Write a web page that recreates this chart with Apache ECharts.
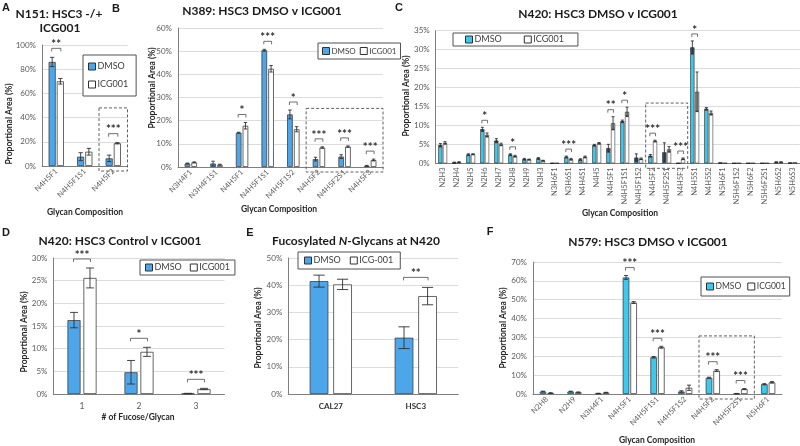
<!DOCTYPE html>
<html><head><meta charset="utf-8">
<script src="https://cdn.jsdelivr.net/npm/echarts@6/dist/echarts.min.js"></script>
<style>html,body{margin:0;padding:0;background:#fff}#c{width:800px;height:446px}</style>
</head><body><div id="c"></div>
<script>
// ---------- DATA ----------
var catA = ['N4H5F1','N4H5F1S1','N4H5F2'];
var dmsoA = [86, 7.7, 6.3];
var dmsoErrA = [3.8, 3.3, 2.7];
var icgA = [70, 11.8, 18.8];
var icgErrA = [2.3, 2.8, 0.5];
var sigA = ['**','','***'];
var boxA = [2, 2, 48];
var ticksA = [0, 100, 20];

var catB = ['N3H4F1','N3H4F1S1','N4H5F1','N4H5F1S1','N4H5F1S2','N4H5F2','N4H5F2S1','N4H5F3'];
var dmsoB = [1.5, 1.5, 14.8, 50.4, 22.7, 3.4, 4.5, 0.5];
var dmsoErrB = [0.2, 1.0, 0.2, 0.4, 1.9, 0.8, 0.8, 0.2];
var icgB = [2.0, 1.0, 17.8, 42.4, 16.3, 8.4, 8.8, 3.0];
var icgErrB = [0.2, 0.2, 1.4, 1.4, 1.1, 0.3, 0.3, 0.4];
var sigB = ['','','*','***','*','***','***','***'];
var boxB = [5, 7, 25.3];
var ticksB = [0, 60, 10];

var catC = ['N2H3','N2H4','N2H5','N2H6','N2H7','N2H8','N2H9','N3H3','N3H6F1','N3H6S1','N4H4S1','N4H5','N4H5F1','N4H5F1S1','N4H5F1S2','N4H5F2','N4H5F2S1','N4H5F3','N4H5S1','N4H5S2','N5H6F1','N5H6F1S2','N5H6F2','N5H6F2S1','N5H6S2','N5H6S3'];
var dmsoC = [4.8, 0.2, 2.3, 9.0, 6.0, 2.3, 1.1, 1.3, 0, 1.7, 1.0, 4.8, 4.0, 11.1, 1.5, 2.0, 2.9, 0, 30.6, 14.4, 0.1, 0, 0, 0, 0.3, 0.1];
var dmsoErrC = [0.4, 0.1, 0.2, 0.5, 0.5, 0.2, 0.2, 0.2, 0, 0.2, 0.2, 0.2, 1.0, 0.3, 1.0, 0.3, 2.5, 0, 1.7, 0.3, 0, 0, 0, 0, 0.1, 0];
var icgC = [5.4, 0.3, 2.4, 7.5, 5.0, 1.9, 1.0, 0.7, 0, 1.1, 1.7, 5.3, 10.6, 13.6, 1.2, 5.9, 3.7, 1.2, 18.9, 13.3, 0, 0, 0, 0, 0.3, 0.1];
var icgErrC = [0.3, 0.1, 0.1, 0.5, 0.3, 0.2, 0.1, 0.1, 0, 0.2, 0.2, 0.2, 1.7, 1.2, 0.2, 0.2, 0.7, 0.2, 5.2, 0.5, 0, 0, 0, 0, 0.1, 0];
var sigC = ['','','','*','','*','','','','***','','','**','*','','***','','***','*','','','','','','',''];
var boxC = [15, 17, 15.9];
var ticksC = [0, 35, 5];

var catD = ['1','2','3'];
var dmsoD = [16.3, 4.8, 0.1];
var dmsoErrD = [1.7, 2.6, 0.05];
var icgD = [25.6, 9.3, 1.1];
var icgErrD = [2.2, 1.0, 0.15];
var sigD = ['***','*','***'];
var ticksD = [0, 30, 5];

var catE = ['CAL27','HSC3'];
var dmsoE = [41.5, 20.7];
var dmsoErrE = [2.2, 4.0];
var icgE = [40.3, 36.0];
var icgErrE = [1.9, 3.2];
var sigE = ['','**'];
var ticksE = [0, 50, 10];

var catF = ['N2H8','N2H9','N3H4F1','N4H5F1','N4H5F1S1','N4H5F1S2','N4H5F2','N4H5F2S1','N5H6F1'];
var dmsoF = [1.3, 1.3, 0.3, 61.8, 19.5, 1.3, 8.6, 0.2, 5.2];
var dmsoErrF = [0.2, 0.2, 0.1, 1.0, 0.4, 0.4, 0.3, 0.1, 0.3];
var icgF = [0.5, 0.9, 0.8, 48.5, 24.8, 3.3, 12.4, 2.6, 6.2];
var icgErrF = [0.2, 0.2, 0.1, 0.5, 0.5, 1.4, 0.5, 0.3, 0.4];
var sigF = ['','','','***','***','','***','***',''];
var boxF = [6, 7, 30.8];
var ticksF = [0, 70, 10];

// ---------- STYLE / LAYOUT ----------
var FONT = 'Lato, "Liberation Sans", sans-serif';
var BLUE = '#4ea6ea', CYAN = '#3cc9f0', DARKCAP = '#1d5f8f', GRAYCAP = '#a0a0a0';
var EDGE = '#404040', TXT = '#595959';

var chart = echarts.init(document.getElementById('c'), null, {renderer: 'canvas'});
var grids = [], xAxes = [], yAxes = [], series = [], legends = [], graphics = [];

function errRender(frac, gapFrac, side) {
  return function (params, api) {
    var ci = api.value(0), v = api.value(1), e = api.value(2);
    if (!(e > 0)) return null;
    var bw = api.size([1, 0])[0];
    var w = bw * frac;
    var x = api.coord([ci, v])[0] + side * (w + w * gapFrac) / 2;
    var yT = api.coord([ci, v + e])[1];
    var yB = api.coord([ci, Math.max(v - e, 0)])[1];
    var c = Math.max(1.5, w * 0.3);
    var st = {stroke: '#303030', lineWidth: 0.9};
    return {type: 'group', children: [
      {type: 'line', shape: {x1: x, y1: yT, x2: x, y2: yB}, style: st},
      {type: 'line', shape: {x1: x - c, y1: yT, x2: x + c, y2: yT}, style: st},
      {type: 'line', shape: {x1: x - c, y1: yB, x2: x + c, y2: yB}, style: st}
    ]};
  };
}
function sigRender(frac, gapFrac, sigs, gapPx) {
  return function (params, api) {
    var ci = api.value(0), top = api.value(1);
    var s = sigs[ci];
    if (!s) return null;
    var bw = api.size([1, 0])[0];
    var w = bw * frac, off = (w + w * gapFrac) / 2 + 0.5;
    var p = api.coord([ci, top]);
    var y = p[1] - gapPx;
    var x1 = p[0] - off, x2 = p[0] + off;
    return {type: 'group', children: [
      {type: 'polyline', shape: {points: [[x1, y + 3], [x1, y], [x2, y], [x2, y + 3]]},
        style: {stroke: '#606060', fill: null, lineWidth: 0.9}},
      {type: 'text', style: {text: s, x: (x1 + x2) / 2, y: y + 2, textAlign: 'center',
        textVerticalAlign: 'bottom', font: 'bold 11.5px ' + FONT, fill: '#303030'}}
    ]};
  };
}
function boxRender(params, api) {
  var s = api.value(0), e = api.value(1), t = api.value(2);
  var bw = api.size([1, 0])[0];
  var x1 = api.coord([s, 0])[0] - bw / 2, x2 = api.coord([e, 0])[0] + bw / 2;
  var y1 = api.coord([s, t])[1], y2 = api.coord([s, 0])[1] + 5;
  return {type: 'rect', shape: {x: x1, y: y1, width: x2 - x1, height: y2 - y1},
    style: {fill: null, stroke: '#606060', lineDash: [3, 2], lineWidth: 1}};
}

function addPanel(p) {
  var gi = grids.length;
  grids.push({left: p.grid[0], top: p.grid[1], width: p.grid[2], height: p.grid[3], containLabel: false});
  xAxes.push({type: 'category', gridIndex: gi, data: p.cats,
    axisLine: {lineStyle: {color: '#7f7f7f', width: 1}}, axisTick: {show: false},
    axisLabel: {interval: 0, rotate: p.rot, fontSize: p.xfs || 7.5, color: p.xcol || TXT, fontFamily: FONT,
      fontWeight: p.xbold ? 'bold' : 'normal', margin: p.xmargin || 4}});
  yAxes.push({type: 'value', gridIndex: gi, min: p.ticks[0], max: p.ticks[1], interval: p.ticks[2],
    axisLine: {show: true, lineStyle: {color: '#7f7f7f', width: 1}}, axisTick: {show: false},
    splitLine: {lineStyle: {color: '#dcdcdc', width: 1}},
    axisLabel: {formatter: '{value}%', fontSize: 8, color: TXT, fontFamily: FONT, margin: 6}});
  var bwp = (p.frac * 100) + '%', gap = (p.gap * 100) + '%';
  var dColor = p.cyan ? CYAN : BLUE;
  var dErrData = p.cats.map(function (c, i) { return [i, p.dmso[i], p.dErr[i]]; });
  var iErrData = p.cats.map(function (c, i) { return [i, p.icg[i], p.iErr[i]]; });
  if (p.capped) {
    var dBase = p.dmso.map(function (v, i) { return Math.max(v - p.dErr[i], 0); });
    var dCap = p.dmso.map(function (v, i) { return v - Math.max(v - p.dErr[i], 0); });
    var iBase = p.icg.map(function (v, i) { return Math.max(v - p.iErr[i], 0); });
    var iCap = p.icg.map(function (v, i) { return v - Math.max(v - p.iErr[i], 0); });
    series.push({type: 'bar', name: 'DMSO', xAxisIndex: gi, yAxisIndex: gi, stack: 'd' + gi, data: dBase,
      barWidth: bwp, barGap: gap, itemStyle: {color: dColor, borderColor: '#202020', borderWidth: 0.6}, animation: false});
    series.push({type: 'bar', name: 'dcap', xAxisIndex: gi, yAxisIndex: gi, stack: 'd' + gi, data: dCap,
      barWidth: bwp, barGap: gap, itemStyle: {color: DARKCAP, borderColor: '#202020', borderWidth: 0.6}, animation: false});
    series.push({type: 'bar', name: p.iName, xAxisIndex: gi, yAxisIndex: gi, stack: 'i' + gi, data: iBase,
      barWidth: bwp, barGap: gap, itemStyle: {color: '#ffffff', borderColor: '#404040', borderWidth: 0.6}, animation: false});
    series.push({type: 'bar', name: 'icap', xAxisIndex: gi, yAxisIndex: gi, stack: 'i' + gi, data: iCap,
      barWidth: bwp, barGap: gap, itemStyle: {color: GRAYCAP, borderColor: '#404040', borderWidth: 0.6}, animation: false});
  } else {
    series.push({type: 'bar', name: 'DMSO', xAxisIndex: gi, yAxisIndex: gi, data: p.dmso,
      barWidth: bwp, barGap: gap, itemStyle: {color: dColor, borderColor: EDGE, borderWidth: 0.8}, animation: false});
    series.push({type: 'bar', name: p.iName, xAxisIndex: gi, yAxisIndex: gi, data: p.icg,
      barWidth: bwp, barGap: gap, itemStyle: {color: '#ffffff', borderColor: EDGE, borderWidth: 0.8}, animation: false});
  }
  series.push({type: 'custom', name: 'errD', xAxisIndex: gi, yAxisIndex: gi, data: dErrData,
    renderItem: errRender(p.frac, p.gap, -1), encode: {x: 0, y: 1}, z: 5, animation: false, silent: true});
  series.push({type: 'custom', name: 'errI', xAxisIndex: gi, yAxisIndex: gi, data: iErrData,
    renderItem: errRender(p.frac, p.gap, 1), encode: {x: 0, y: 1}, z: 5, animation: false, silent: true});
  var tops = p.cats.map(function (c, i) {
    return [i, Math.max(p.dmso[i] + p.dErr[i], p.icg[i] + p.iErr[i])];
  });
  series.push({type: 'custom', name: 'sig', xAxisIndex: gi, yAxisIndex: gi, data: tops,
    renderItem: sigRender(p.frac, p.gap, p.sigs, p.sigGap), encode: {x: 0, y: 1}, z: 6, animation: false, silent: true});
  if (p.box) {
    series.push({type: 'custom', name: 'box', xAxisIndex: gi, yAxisIndex: gi, data: [p.box],
      renderItem: boxRender, encode: {x: 0, y: 2}, z: 4, animation: false, silent: true});
  }
  var lg = {
    left: p.legend[0], top: p.legend[1], orient: p.legendOrient || 'horizontal',
    data: [{name: 'DMSO', itemStyle: {color: dColor, borderColor: '#303030', borderWidth: 1}},
           {name: p.iName, itemStyle: {color: '#ffffff', borderColor: '#303030', borderWidth: 1}}],
    icon: 'rect', itemWidth: 7, itemHeight: 7, itemGap: p.legendGap || 12,
    textStyle: {fontSize: p.legendFs || 9, color: '#404040', fontFamily: FONT, padding: [0, 0, 0, -3]},
    borderColor: '#505050', borderWidth: 1, backgroundColor: '#fff',
    padding: p.legendPad || [3, 8, 3, 6], selectedMode: false
  };
  legends.push(lg);
}

function txt(x, y, s, font, opts) {
  opts = opts || {};
  graphics.push({type: 'text', x: x, y: y, rotation: opts.rot || 0, z: 100,
    style: {text: s, font: font, fill: opts.fill || '#1a1a1a', textAlign: 'center', textVerticalAlign: 'middle', rich: opts.rich}});
}

addPanel({cats: catA, dmso: dmsoA, dErr: dmsoErrA, icg: icgA, iErr: icgErrA, sigs: sigA, box: boxA, ticks: ticksA,
  grid: [42, 45, 85.5, 121], rot: 45, frac: 0.25, gap: 0.15, sigGap: 9, iName: 'ICG001',
  legend: [83, 55], legendOrient: 'vertical', legendGap: 9, legendPad: [7, 8, 7, 5]});
addPanel({cats: catB, dmso: dmsoB, dErr: dmsoErrB, icg: icgB, iErr: icgErrB, sigs: sigB, box: boxB, ticks: ticksB,
  grid: [178, 28, 205, 139], rot: 45, frac: 0.22, gap: 0.2, sigGap: 8, iName: 'ICG001',
  legend: [318, 43], legendGap: 4, legendFs: 8, legendPad: [4, 4, 4, 4]});
addPanel({cats: catC, dmso: dmsoC, dErr: dmsoErrC, icg: icgC, iErr: icgErrC, sigs: sigC, box: boxC, ticks: ticksC,
  grid: [435.7, 30.7, 364, 132.6], rot: 90, frac: 0.3, gap: 0.12, sigGap: 7, iName: 'ICG001', cyan: true, capped: true,
  legend: [453, 33], legendGap: 22, legendPad: [2, 14, 2, 12]});
addPanel({cats: catD, dmso: dmsoD, dErr: dmsoErrD, icg: icgD, iErr: icgErrD, sigs: sigD, ticks: ticksD,
  grid: [53.5, 258, 171, 136], rot: 0, frac: 0.23, gap: 0.22, sigGap: 9, iName: 'ICG001', xfs: 8.5, xmargin: 8,
  legend: [140, 260], legendGap: 8, legendPad: [3, 5, 3, 5]});
addPanel({cats: catE, dmso: dmsoE, dErr: dmsoErrE, icg: icgE, iErr: icgErrE, sigs: sigE, ticks: ticksE,
  grid: [288.3, 258, 170, 136], rot: 0, frac: 0.22, gap: 0.26, sigGap: 10, iName: 'ICG-001', xfs: 8, xmargin: 8,
  xbold: true, xcol: '#303030',
  legend: [298, 252], legendGap: 9, legendPad: [4, 7, 4, 6]});
addPanel({cats: catF, dmso: dmsoF, dErr: dmsoErrF, icg: icgF, iErr: icgErrF, sigs: sigF, box: boxF, ticks: ticksF,
  grid: [533, 262, 249, 132], rot: 45, frac: 0.24, gap: 0.15, sigGap: 8, iName: 'ICG001', cyan: true,
  legend: [701, 277], legendGap: 6, legendFs: 8.5, legendPad: [5, 4, 5, 5]});

// Titles, panel letters, axis names
var LET = 'bold 11px "Liberation Sans", Arial, sans-serif';
txt(6, 8, 'A', LET); txt(116, 9, 'B', LET); txt(399, 8, 'C', LET);
txt(6, 233, 'D', LET); txt(250, 233, 'E', LET); txt(490, 232, 'F', LET);
var TT = 'bold 12px ' + FONT;
txt(59, 14, 'N151: HSC3 -/+', TT); txt(60, 28, 'ICG001', TT);
txt(262, 11, 'N389: HSC3 DMSO v ICG001', TT);
txt(598, 14, 'N420: HSC3 DMSO v ICG001', TT);
txt(120, 241, 'N420: HSC3 Control v ICG001', TT);
txt(356, 241, '{a|Fucosylated }{b|N}{a|-Glycans at N420}', TT, {rich: {
  a: {font: 'bold 12px ' + FONT, fill: '#1a1a1a'}, b: {font: 'italic bold 12px ' + FONT, fill: '#1a1a1a'}}});
txt(648, 242, 'N579: HSC3 DMSO v ICG001', TT);
var AN = 'bold 8.5px ' + FONT;
var R = Math.PI / 2;
txt(9, 124, 'Proportional Area (%)', AN, {rot: R, fill: '#262626'});
txt(152, 88, 'Proportional Area (%)', AN, {rot: R, fill: '#262626'});
txt(406, 96, 'Proportional Area (%)', AN, {rot: R, fill: '#262626'});
txt(24, 332, 'Proportional Area (%)', AN, {rot: R, fill: '#262626'});
txt(258, 328, 'Proportional Area (%)', AN, {rot: R, fill: '#262626'});
txt(503, 328, 'Proportional Area (%)', AN, {rot: R, fill: '#262626'});
txt(85, 212, 'Glycan Composition', AN, {fill: '#262626'});
txt(279, 209, 'Glycan Composition', AN, {fill: '#262626'});
txt(620, 213, 'Glycan Composition', AN, {fill: '#262626'});
txt(138, 417, '# of Fucose/Glycan', AN, {fill: '#262626'});
txt(657, 440, 'Glycan Composition', AN, {fill: '#262626'});

chart.setOption({
  animation: false,
  backgroundColor: '#ffffff',
  grid: grids, xAxis: xAxes, yAxis: yAxes, series: series, legend: legends, graphic: graphics
});
</script></body></html>
